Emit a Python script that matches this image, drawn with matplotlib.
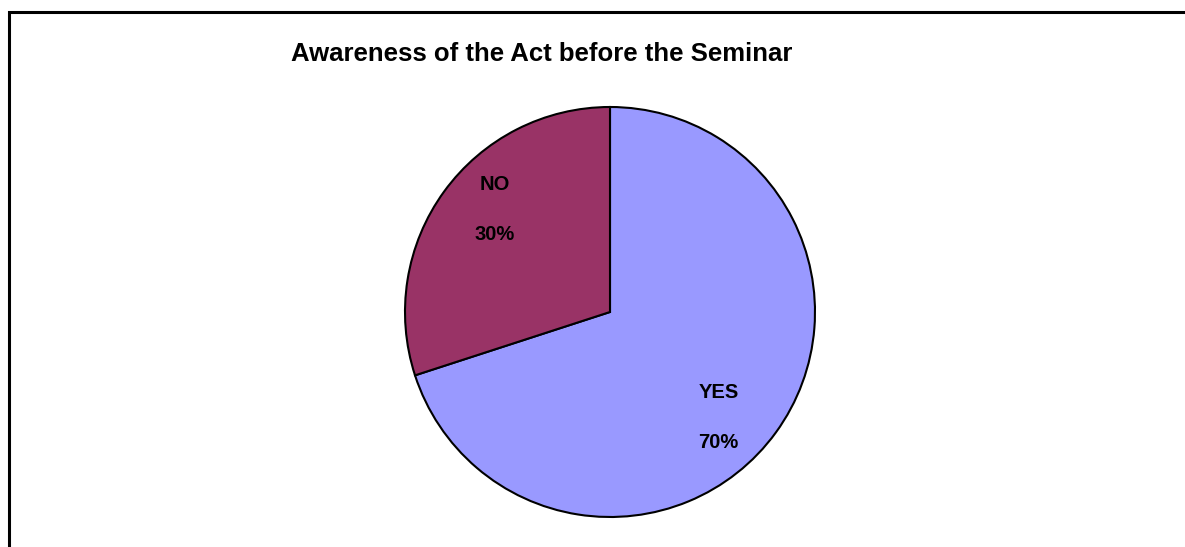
import matplotlib.pyplot as plt
from matplotlib.patches import Rectangle

labels = ["YES", "NO"]
shares = [70, 30]
colors = ["#9999FF", "#993366"]
title = "Awareness of the Act before the Seminar"

plt.rcParams['font.family'] = ['Liberation Sans', 'DejaVu Sans']

W, H = 1185, 547
fig = plt.figure(figsize=(W / 100, H / 100), dpi=100)
fig.patch.set_facecolor('white')

# outer chart border (bottom and right edges run past the canvas)
fig.add_artist(Rectangle((9 / W, -0.1), 1.2, (547 - 12) / H + 0.1,
                         transform=fig.transFigure, fill=False,
                         edgecolor='black', linewidth=2.2, clip_on=False))

# pie centred at (610, 312) px with radius 205 px
cx, cy, r = 610, 312, 205
ax = fig.add_axes([(cx - r) / W, (H - cy - r) / H, 2 * r / W, 2 * r / H])
wedges, _ = ax.pie(shares, colors=colors, startangle=90, counterclock=False,
                   wedgeprops=dict(edgecolor='black', linewidth=1.5))
ax.set_xlim(-1, 1)
ax.set_ylim(-1, 1)
ax.set_aspect('equal')
ax.axis('off')

label_pos = {"YES": (0.529, -0.514), "NO": (-0.561, 0.498)}
for name, val in zip(labels, shares):
    x, y = label_pos[name]
    ax.text(x, y + 0.122, name, ha='center', va='center',
            fontsize=14.5, fontweight='bold')
    ax.text(x, y - 0.122, f"{val}%", ha='center', va='center',
            fontsize=14.5, fontweight='bold')

fig.text(542 / W, 1 - 54 / H, title, ha='center', va='center',
         fontsize=18.5, fontweight='bold')

fig.savefig('out.png', dpi=100)
